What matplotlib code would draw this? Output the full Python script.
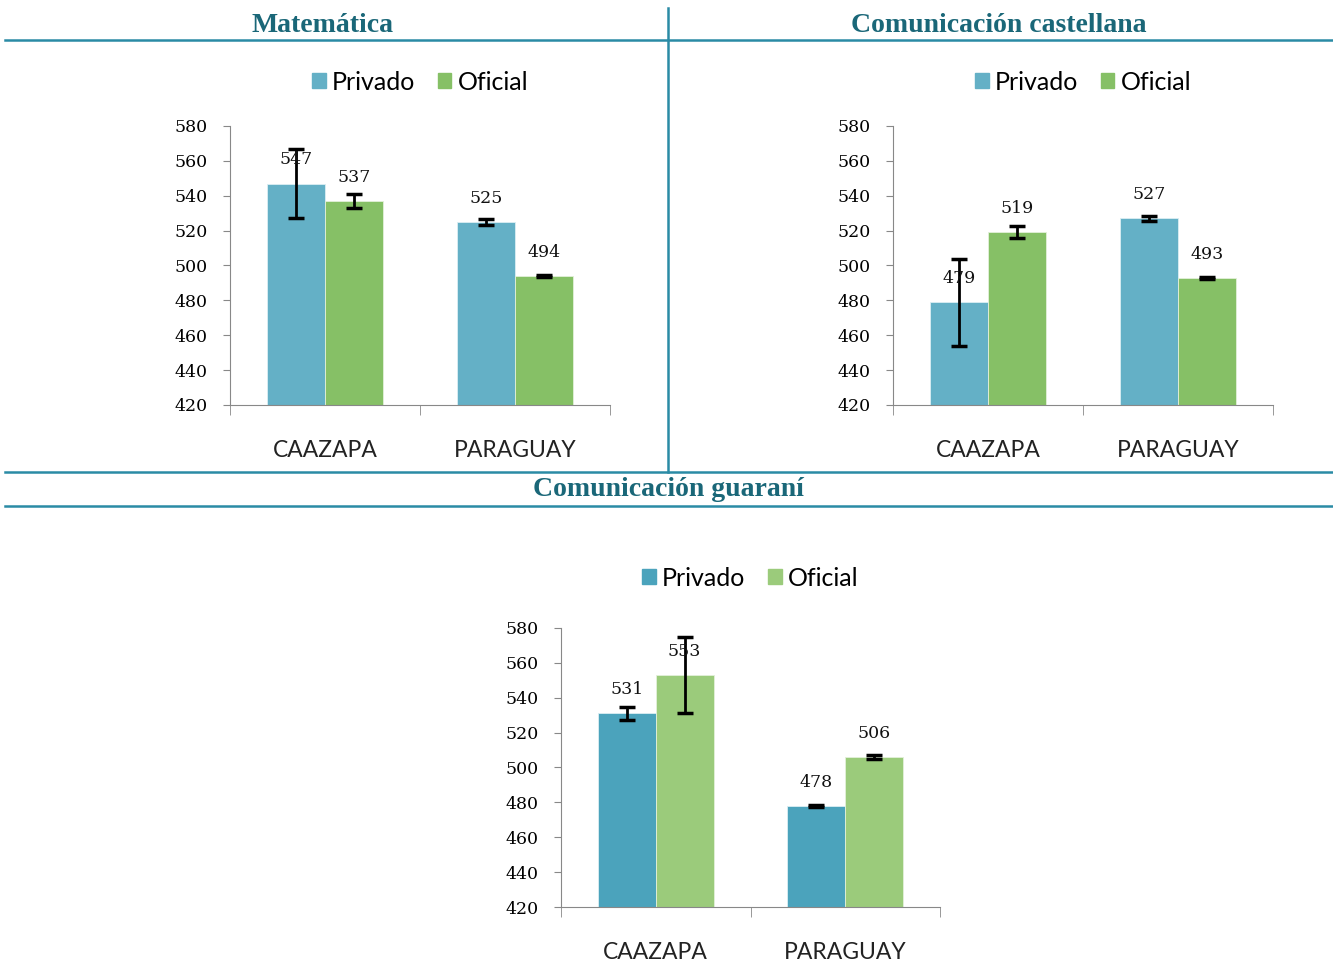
import matplotlib.pyplot as plt
from matplotlib.lines import Line2D
import numpy as np

# data
categorias = ["CAAZAPA", "PARAGUAY"]
titulos = ["Matemática", "Comunicación castellana", "Comunicación guaraní"]

mat_privado = [547, 525]
mat_oficial = [537, 494]
mat_err_privado = [20, 1.5]
mat_err_oficial = [4, 0.6]

cas_privado = [479, 527]
cas_oficial = [519, 493]
cas_err_privado = [25, 1.5]
cas_err_oficial = [3.5, 0.6]

gua_privado = [531, 478]
gua_oficial = [553, 506]
gua_err_privado = [3.5, 0.6]
gua_err_oficial = [22, 1]

yticks = [420, 440, 460, 480, 500, 520, 540, 560, 580]

W, H = 1333, 965
fig = plt.figure(figsize=(W / 100, H / 100), dpi=100)

teal = "#2A8BA5"
title_col = "#1A6778"


def px_axes(x0, y_top, x1, y_bot):
    return fig.add_axes([x0 / W, 1 - y_bot / H, (x1 - x0) / W, (y_bot - y_top) / H])


def panel(ax, priv, ofi, e_priv, e_ofi, c_priv, c_ofi, leg_y):
    x = np.arange(len(categorias))
    w = 0.305
    ax.bar(x - w / 2, priv, w, color=c_priv, edgecolor="#dbeef3", linewidth=0.6, zorder=2)
    ax.bar(x + w / 2, ofi, w, color=c_ofi, edgecolor="#e3f0da", linewidth=0.6, zorder=2)
    ax.errorbar(x - w / 2, priv, yerr=e_priv, fmt="none", ecolor="black",
                elinewidth=2, capsize=6, capthick=2.5, zorder=3)
    ax.errorbar(x + w / 2, ofi, yerr=e_ofi, fmt="none", ecolor="black",
                elinewidth=2, capsize=6, capthick=2.5, zorder=3)
    for xs, vals in [(x - w / 2, priv), (x + w / 2, ofi)]:
        for xi, v in zip(xs, vals):
            ax.annotate(str(v), (xi, v), xytext=(0, 17), textcoords="offset points",
                        ha="center", va="center", fontsize=12.5,
                        family="DejaVu Serif", color="#111111", zorder=4)
    ax.set_ylim(420, 580)
    ax.set_xlim(-0.5, 1.5)
    ax.set_yticks(yticks)
    ax.set_yticklabels([str(t) for t in yticks], family="DejaVu Serif", fontsize=12.5)
    ax.set_xticks(x)
    ax.set_xticklabels(categorias, family="Lato", fontsize=16.5, color="#222222")
    ax.set_xticks([-0.5, 0.5, 1.5], minor=True)
    ax.tick_params(axis="x", which="major", length=0, pad=25.5)
    ax.tick_params(axis="x", which="minor", length=7, color="#888888", direction="out")
    ax.tick_params(axis="y", length=5, color="#888888", pad=11)
    for s in ["top", "right"]:
        ax.spines[s].set_visible(False)
    for s in ["left", "bottom"]:
        ax.spines[s].set_color("#888888")
    handles = [plt.Rectangle((0, 0), 1, 1, color=c_priv), plt.Rectangle((0, 0), 1, 1, color=c_ofi)]
    ax.legend(handles, ["Privado", "Oficial"], loc="center", bbox_to_anchor=(0.5, leg_y),
              ncol=2, frameon=False, prop={"family": "Lato", "size": 18},
              handlelength=0.55, handleheight=0.55, handletextpad=0.25, columnspacing=0.9)


ax1 = px_axes(230, 126, 610, 405)
panel(ax1, mat_privado, mat_oficial, mat_err_privado, mat_err_oficial,
      "#64B0C6", "#86C066", 1 + 44 / 279)
ax2 = px_axes(893, 126, 1273, 405)
panel(ax2, cas_privado, cas_oficial, cas_err_privado, cas_err_oficial,
      "#64B0C6", "#86C066", 1 + 44 / 279)
ax3 = px_axes(561, 628, 940, 907)
panel(ax3, gua_privado, gua_oficial, gua_err_privado, gua_err_oficial,
      "#4BA3BC", "#9BCB7B", 1 + 50 / 279)

# section lines and titles
def hline(y, x0=5, x1=1332):
    fig.add_artist(Line2D([x0 / W, x1 / W], [1 - y / H, 1 - y / H], color=teal, lw=1.8))

hline(40)
hline(472)
hline(506)
fig.add_artist(Line2D([668 / W, 668 / W], [1 - 8 / H, 1 - 472 / H], color=teal, lw=1.8))

tprops = dict(family="Liberation Serif", fontweight="bold", fontsize=20,
              color=title_col, ha="center", va="center")
fig.text(323 / W, 1 - 25 / H, titulos[0], **tprops)
fig.text(999 / W, 1 - 25 / H, titulos[1], **tprops)
fig.text(668 / W, 1 - 490 / H, titulos[2], **tprops)

fig.savefig("out.png", dpi=100)
